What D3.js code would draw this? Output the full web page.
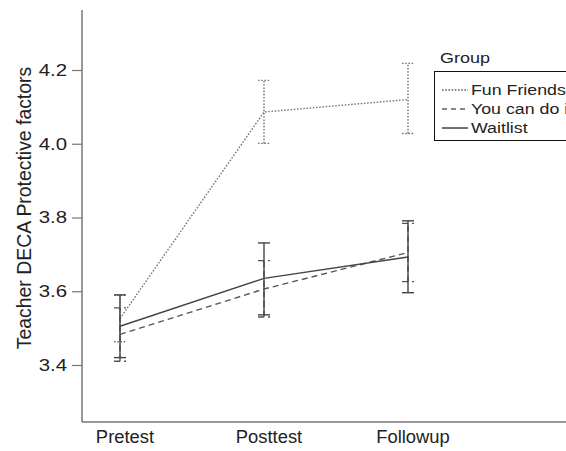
<!doctype html>
<html lang="en">
<head>
<meta charset="utf-8">
<title>Teacher DECA Protective factors</title>
<style>
html, body {
	margin: 0;
	padding: 0;
	background: #fff;
	font-family: 'Liberation Sans', Arial, sans-serif;
}
svg { display: block; }
</style>
</head>
<body>
<div id="chart"></div>
<script src="https://cdnjs.cloudflare.com/ajax/libs/d3/7.8.5/d3.min.js"></script>
<script>
// categories and ticks
var times = ['Pretest', 'Posttest', 'Followup'];
var yTicks = [3.4, 3.6, 3.8, 4.0, 4.2];
var groups = ['Fun Friends', 'You can do it', 'Waitlist'];

// means and 95% CI per group
var funMean = [3.526, 4.086, 4.120];
var funLo   = [3.463, 4.001, 4.028];
var funHi   = [3.590, 4.172, 4.218];

var youMean = [3.483, 3.606, 3.705];
var youLo   = [3.410, 3.530, 3.626];
var youHi   = [3.555, 3.683, 3.784];

var waitMean = [3.505, 3.635, 3.693];
var waitLo   = [3.420, 3.536, 3.596];
var waitHi   = [3.590, 3.731, 3.791];

(function (d3) {
	'use strict';

	var W = 566, H = 451;
	var INK = '#222';

	var series = [
		{ name: groups[0], mean: funMean, lo: funLo, hi: funHi, dash: '1.6,1.6', color: '#777', width: 1.4 },
		{ name: groups[1], mean: youMean, lo: youLo, hi: youHi, dash: '6,4', color: '#555', width: 1.4 },
		{ name: groups[2], mean: waitMean, lo: waitLo, hi: waitHi, dash: null, color: '#444', width: 1.4 }
	];

	// the picture's text is a bit wider than the font, so stretch it
	var stretch = function (sel, k) {
		sel.each(function () {
			var w = this.getComputedTextLength();
			d3.select(this)
				.attr('textLength', w * k)
				.attr('lengthAdjust', 'spacingAndGlyphs');
		});
	};

	var x = d3.scalePoint().domain(times).range([120, 408]);
	var y = d3.scaleLinear().domain([3.4, 4.2]).range([365, 70]);

	var svg = d3.select('#chart').append('svg')
		.attr('width', W)
		.attr('height', H);

	/* AXES */
	var yAxis = svg.append('g')
		.attr('transform', 'translate(82,0)')
		.call(d3.axisLeft(y).tickValues(yTicks).tickSize(10).tickPadding(5).tickFormat(d3.format('.1f')));
	yAxis.select('.domain').remove();
	yAxis.selectAll('.tick line').attr('stroke', '#777').attr('stroke-width', 1.2);
	yAxis.selectAll('.tick text')
		.attr('font-family', "'Liberation Sans', Arial, sans-serif")
		.attr('font-size', 17)
		.attr('fill', INK)
		.call(stretch, 1.2);

	svg.append('line')
		.attr('x1', 82).attr('x2', 82).attr('y1', 10).attr('y2', 422)
		.attr('stroke', '#777').attr('stroke-width', 1.5);
	svg.append('line')
		.attr('x1', 82).attr('x2', W).attr('y1', 422).attr('y2', 422)
		.attr('stroke', '#777').attr('stroke-width', 1.5);

	svg.append('g').selectAll('text')
		.data(times).enter()
		.append('text')
		.attr('x', function (d) { return x(d) + 5; })
		.attr('y', 443)
		.attr('text-anchor', 'middle')
		.attr('font-size', 17.5)
		.attr('fill', INK)
		.text(function (d) { return d; })
		.call(stretch, 1.05);

	svg.append('text')
		.attr('transform', 'translate(31,208) rotate(-90)')
		.attr('text-anchor', 'middle')
		.attr('font-size', 19.4)
		.attr('fill', INK)
		.text('Teacher DECA Protective factors');

	/* LINES + ERROR BARS */
	var line = d3.line()
		.x(function (d) { return x(d.t); })
		.y(function (d) { return y(d.v); });

	series.forEach(function (s) {
		var pts = times.map(function (t, i) { return { t: t, v: s.mean[i], lo: s.lo[i], hi: s.hi[i] }; });
		var g = svg.append('g');

		g.append('path')
			.datum(pts)
			.attr('d', line)
			.attr('fill', 'none')
			.attr('stroke', s.color)
			.attr('stroke-width', s.width)
			.attr('stroke-dasharray', s.dash);

		var eb = g.selectAll('.eb').data(pts).enter().append('g');
		eb.append('line')
			.attr('x1', function (d) { return x(d.t); })
			.attr('x2', function (d) { return x(d.t); })
			.attr('y1', function (d) { return y(d.lo); })
			.attr('y2', function (d) { return y(d.hi); })
			.attr('stroke', s.color).attr('stroke-width', s.width)
			.attr('stroke-dasharray', s.dash);
		['lo', 'hi'].forEach(function (k) {
			eb.append('line')
				.attr('x1', function (d) { return x(d.t) - 6; })
				.attr('x2', function (d) { return x(d.t) + 6; })
				.attr('y1', function (d) { return y(d[k]); })
				.attr('y2', function (d) { return y(d[k]); })
				.attr('stroke', s.color).attr('stroke-width', s.width)
				.attr('stroke-dasharray', s.dash);
		});
	});

	/* LEGEND */
	svg.append('text')
		.attr('x', 440).attr('y', 63)
		.attr('font-size', 15.5)
		.attr('fill', INK)
		.text('Group')
		.call(stretch, 1.16);

	svg.append('rect')
		.attr('x', 434.5).attr('y', 71.5)
		.attr('width', 160).attr('height', 69)
		.attr('fill', 'none')
		.attr('stroke', '#111').attr('stroke-width', 1);

	var leg = svg.append('g').selectAll('g')
		.data(series).enter().append('g')
		.attr('transform', function (d, i) { return 'translate(0,' + (90 + i * 19) + ')'; });
	leg.append('line')
		.attr('x1', 442).attr('x2', 468).attr('y1', 0).attr('y2', 0)
		.attr('stroke', '#111').attr('stroke-width', 1.2)
		.attr('stroke-dasharray', function (d) { return d.dash === '6,4' ? '5,4' : d.dash; });
	leg.append('text')
		.attr('x', 471).attr('y', 5)
		.attr('font-size', 14)
		.attr('fill', INK)
		.text(function (d) { return d.name; })
		.call(stretch, 1.27);

})(window.d3);
</script>
</body>
</html>
